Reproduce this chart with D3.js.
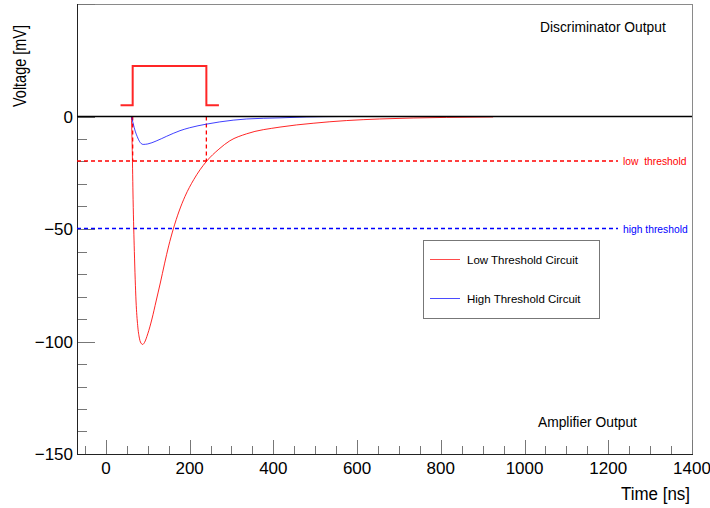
<!DOCTYPE html>
<html><head><meta charset="utf-8">
<script src="https://cdn.jsdelivr.net/npm/d3@7"></script>
<style>body{margin:0;background:#fff}svg{display:block}text{font-family:"Liberation Sans",Arial,sans-serif}</style>
</head><body><svg id="c" width="710" height="508"></svg>
<script>
// ---- data ----
const lowTime = [61, 63, 65, 68, 72, 76, 80, 85, 88, 92, 100, 110, 120, 130, 140, 150, 161, 175, 189, 210, 240, 270, 296, 336, 416, 495, 575, 654, 814, 925];
const lowVolt = [0, -15, -37, -60, -82, -93, -98.5, -101, -101.3, -100.5, -96.6, -90, -82, -74, -65.5, -57.5, -50, -42, -35.5, -28, -20, -14.5, -10.8, -7.7, -4.7, -3, -1.8, -1.1, -0.4, -0.2];
const highTime = [61, 65, 70, 75, 80, 89, 100, 120, 145, 177, 200, 240, 272, 336, 416, 480, 560];
const highVolt = [0, -3, -6.5, -9, -11, -12.4, -12.2, -10.9, -8.8, -6.3, -5.0, -3.4, -2.4, -1.1, -0.6, -0.2, 0];
const pulseTime = [35, 64, 64, 240, 240, 270];
const pulseVolt = [5, 5, 22.5, 22.5, 5, 5];
const thresholdVolt = [-20, -50];
const thresholdLabels = ["low\u00a0\u00a0threshold", "high threshold"];
const crossTime = [64, 240];
const xTicks = [0, 200, 400, 600, 800, 1000, 1200, 1400];
const yTicks = [0, -50, -100, -150];
const legendLabels = ["Low Threshold Circuit", "High Threshold Circuit"];

// ---- layout ----
const svg = d3.select("#c");
const L = 77, R = 692, T = 4, B = 454;
const x = d3.scaleLinear().domain([-69, 1400]).range([L, R]);
const y = d3.scaleLinear().domain([-150, 50]).range([B, T]);
const red = "#ff0000", blue = "#0000ff";
const colors = [red, blue];

// frame
svg.append("rect").attr("x", L + 0.5).attr("y", T + 0.5).attr("width", R - L).attr("height", B - T)
  .attr("fill", "none").attr("stroke", "#8a8a8a").attr("stroke-width", 1);

// x ticks
const xMinor = d3.range(-50, 1400, 50).filter(v => v % 200 !== 0);
svg.append("g").selectAll("line").data(xMinor).join("line")
  .attr("x1", d => Math.round(x(d)) + 0.5).attr("x2", d => Math.round(x(d)) + 0.5)
  .attr("y1", B).attr("y2", B - 8).attr("stroke", "#777");
svg.append("g").selectAll("line").data(xTicks).join("line")
  .attr("x1", d => Math.round(x(d)) + 0.5).attr("x2", d => Math.round(x(d)) + 0.5)
  .attr("y1", B).attr("y2", B - 14).attr("stroke", "#777");
svg.append("g").selectAll("text").data(xTicks).join("text")
  .attr("x", d => x(d)).attr("y", B + 20).attr("text-anchor", "middle")
  .attr("font-size", 17).text(d => d);

// y ticks
const yMinor = d3.range(-140, 0, 10).filter(v => v % 50 !== 0);
svg.append("g").selectAll("line").data(yMinor).join("line")
  .attr("y1", d => Math.round(y(d)) + 0.5).attr("y2", d => Math.round(y(d)) + 0.5)
  .attr("x1", L).attr("x2", L + 10).attr("stroke", "#777");
svg.append("g").selectAll("line").data([-150, -100, -50, 0, 50]).join("line")
  .attr("y1", d => Math.round(y(d)) + 0.5).attr("y2", d => Math.round(y(d)) + 0.5)
  .attr("x1", L).attr("x2", L + 18).attr("stroke", "#777");
svg.append("g").selectAll("text").data(yTicks).join("text")
  .attr("x", L - 4).attr("y", d => y(d) + 6).attr("text-anchor", "end")
  .attr("font-size", 17).text(d => d < 0 ? "\u2212" + Math.abs(d) : d);

// axis lines
svg.append("line").attr("x1", L + 0.5).attr("x2", L + 0.5).attr("y1", T).attr("y2", B + 1).attr("stroke", "#222");
svg.append("line").attr("x1", L).attr("x2", R + 1).attr("y1", B + 0.5).attr("y2", B + 0.5).attr("stroke", "#222");

// titles
svg.append("text").attr("x", 690).attr("y", 500).attr("text-anchor", "end").attr("font-size", 18)
  .attr("textLength", 69).attr("lengthAdjust", "spacingAndGlyphs").text("Time [ns]");
svg.append("text").attr("transform", "translate(26,107) rotate(-90)").attr("text-anchor", "start")
  .attr("font-size", 18).attr("textLength", 82).attr("lengthAdjust", "spacingAndGlyphs").text("Voltage [mV]");

// threshold lines
thresholdVolt.forEach((v, i) => {
  svg.append("line").attr("x1", L).attr("x2", 618).attr("y1", y(v) - 0.5).attr("y2", y(v) - 0.5)
    .style("stroke", colors[i]).attr("stroke-width", 1.6).attr("stroke-dasharray", "4,3");
  svg.append("text").attr("x", 623).attr("y", y(v) + 3.5).attr("font-size", 10.3)
    .style("fill", colors[i]).text(thresholdLabels[i]);
});

// vertical crossing lines
crossTime.forEach(t => {
  svg.append("line").attr("x1", x(t)).attr("x2", x(t)).attr("y1", y(0)).attr("y2", y(thresholdVolt[0]))
    .style("stroke", red).attr("stroke-width", 1.3).attr("stroke-dasharray", "4,3");
});

// curves
const line = d3.line().x(d => x(d[0])).y(d => y(d[1])).curve(d3.curveMonotoneX);
svg.append("path").attr("d", line(lowTime.map((t, i) => [t, lowVolt[i]])))
  .attr("fill", "none").style("stroke", red).attr("stroke-width", 1).attr("opacity", 0.85);
svg.append("path").attr("d", line(highTime.map((t, i) => [t, highVolt[i]])))
  .attr("fill", "none").style("stroke", blue).attr("stroke-width", 1).attr("opacity", 0.75);

// zero line
svg.append("line").attr("x1", L).attr("x2", R).attr("y1", y(0)).attr("y2", y(0)).style("stroke", "#000").attr("stroke-width", 1.6);

// discriminator pulse
const step = d3.line().x(d => x(d[0])).y(d => y(d[1]));
svg.append("path").attr("d", step(pulseTime.map((t, i) => [t, pulseVolt[i]])))
  .attr("fill", "none").style("stroke", red).attr("stroke-width", 2).attr("opacity", 0.85);

// annotations
svg.append("text").attr("x", 540).attr("y", 32).attr("font-size", 13.8).text("Discriminator Output");
svg.append("text").attr("x", 538).attr("y", 427).attr("font-size", 13.8).text("Amplifier Output");

// legend
svg.append("rect").attr("x", 423.5).attr("y", 240.5).attr("width", 176).attr("height", 78)
  .attr("fill", "#fff").attr("stroke", "#777");
legendLabels.forEach((lab, i) => {
  const yy = i === 0 ? 259.5 : 298.5;
  svg.append("line").attr("x1", 430).attr("x2", 460).attr("y1", yy).attr("y2", yy)
    .style("stroke", colors[i]).attr("opacity", 0.7);
  svg.append("text").attr("x", 467).attr("y", yy + 4).attr("font-size", 11.5).text(lab);
});
</script></body></html>
